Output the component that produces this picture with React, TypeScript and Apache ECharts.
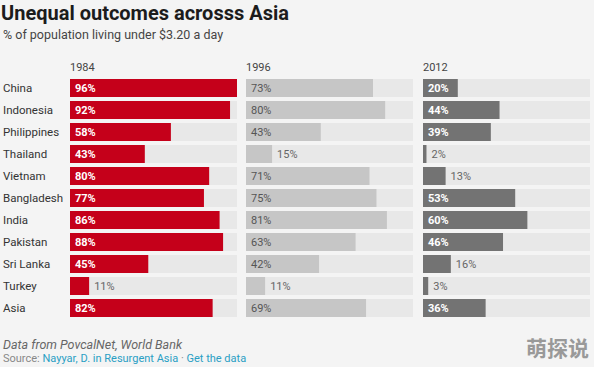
import React, { useEffect, useRef } from "react";
import * as echarts from "echarts";

const countries = ["China", "Indonesia", "Philippines", "Thailand", "Vietnam", "Bangladesh", "India", "Pakistan", "Sri Lanka", "Turkey", "Asia"];
const years = ["1984", "1996", "2012"];
const v1984 = [96, 92, 58, 43, 80, 77, 86, 88, 45, 11, 82];
const v1996 = [73, 80, 43, 15, 71, 75, 81, 63, 42, 11, 69];
const v2012 = [20, 44, 39, 2, 13, 53, 60, 46, 16, 3, 36];

const FONT = "Roboto, 'Noto Sans', sans-serif";

export default function App() {
  const ref = useRef<HTMLDivElement>(null);
  useEffect(() => {
    const chart = echarts.init(ref.current!, null, { renderer: "svg" });
    const lefts = [70, 246, 423];
    const barColors = ["#c5001a", "#c6c6c6", "#737373"];
    const insideColors = ["#ffffff", "#555555", "#ffffff"];
    const insideWeights = ["bold", "normal", "bold"];
    const series = [v1984, v1996, v2012];
    const maxV = Math.max(...v1984, ...v1996, ...v2012);

    const grids = lefts.map((l) => ({ left: l, width: 167, top: 77, height: 242 }));
    const xAxes = lefts.map((_, i) => ({
      type: "value", gridIndex: i, min: 0, max: maxV, show: false,
    }));
    const yAxes = lefts.map((_, i) => ({
      type: "category", gridIndex: i, data: countries, inverse: true,
      axisLine: { show: false }, axisTick: { show: false },
      axisLabel: i === 0
        ? { show: true, color: "#333", fontSize: 11.5, fontFamily: FONT, align: "left", margin: 67 }
        : { show: false },
    }));
    const seriesOpts = series.map((vals, i) => ({
      type: "bar", xAxisIndex: i, yAxisIndex: i, barWidth: 18,
      showBackground: true,
      backgroundStyle: { color: "#e8e8e8" },
      itemStyle: { color: barColors[i] },
      data: vals.map((v) => ({
        value: v,
        label: v >= 20
          ? { show: true, position: "insideLeft", distance: 5, color: insideColors[i], fontWeight: insideWeights[i], fontSize: 11, fontFamily: FONT, formatter: "{c}%" }
          : { show: true, position: "right", distance: 5, color: "#666", fontWeight: "normal", fontSize: 11, fontFamily: FONT, formatter: "{c}%" },
      })),
    }));

    chart.setOption({
      animation: false,
      backgroundColor: "#f4f4f4",
      grid: grids,
      xAxis: xAxes,
      yAxis: yAxes,
      series: seriesOpts,
      graphic: [
        { type: "text", left: 1, top: 3, style: { text: "Unequal outcomes acrosss Asia", fontSize: 20, fontWeight: "bold", fill: "#1c1c1c", fontFamily: FONT } },
        { type: "text", left: 3, top: 28, style: { text: "% of population living under $3.20 a day", fontSize: 12.5, fill: "#444", fontFamily: FONT } },
        ...years.map((y, i) => ({ type: "text", left: lefts[i], top: 62, style: { text: y, fontSize: 11, fill: "#444", fontFamily: FONT } })),
        { type: "text", left: 3, top: 338, style: { text: "Data from PovcalNet, World Bank", fontSize: 12.5, fontStyle: "italic", fill: "#666", fontFamily: FONT } },
        {
          type: "text", left: 3, top: 353,
          style: {
            text: "{g|Source: }{l|Nayyar, D. in Resurgent Asia}{g| · }{l|Get the data}",
            fontFamily: FONT,
            rich: {
              g: { fontSize: 11, fill: "#888", fontFamily: FONT },
              l: { fontSize: 11, fill: "#2a9fc4", fontFamily: FONT },
            },
          },
        },
        { type: "text", right: 5, top: 336, style: { text: "萌探说", fontSize: 21, fontWeight: "bold", fill: "#999999", fontFamily: "'Noto Sans CJK SC', sans-serif" } },
      ],
    });
    return () => chart.dispose();
  }, []);
  return <div ref={ref} style={{ position: "absolute", left: 0, top: 0, width: 594, height: 367 }} />;
}
